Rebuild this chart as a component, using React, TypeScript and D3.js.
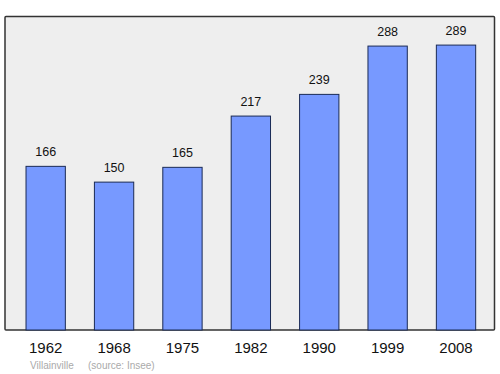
import React from "react";
import * as d3 from "d3";

const years = ["1962", "1968", "1975", "1982", "1990", "1999", "2008"];
const population = [166, 150, 165, 217, 239, 288, 289];
const townName = "Villainville";
const sourceText = "(source: Insee)";

export default function App() {
  const W = 500, H = 374;
  const frame = { x0: 5, y0: 16.5, x1: 494.5, y1: 330 };
  const x = d3.scaleBand<string>().domain(years).range([5.5, 496.2]).paddingInner(0.425).paddingOuter(0.3);
  const y = d3.scaleLinear().domain([0, 318]).range([frame.y1, frame.y0]);
  const font = "'Liberation Sans', Arial, sans-serif";
  return (
    <svg width={W} height={H} style={{ position: "absolute", left: 0, top: 0 }}>
      <rect x={0} y={0} width={W} height={H} fill="#ffffff" />
      <rect x={frame.x0} y={frame.y0} width={frame.x1 - frame.x0} height={frame.y1 - frame.y0}
        fill="#eeeeee" stroke="#333333" strokeWidth={1.5} rx={1} />
      {years.map((yr, i) => {
        const bx = x(yr)!;
        const bw = x.bandwidth();
        const v = population[i];
        return (
          <g key={yr}>
            <rect x={bx} y={y(v)} width={bw} height={frame.y1 - y(v)} fill="#7799ff" stroke="#1a2a55" strokeWidth={1} />
            <text x={bx + bw / 2} y={y(v) - 10} textAnchor="middle" fontFamily={font} fontSize={12.5} fill="#111">{v}</text>
            <text x={bx + bw / 2} y={352.5} textAnchor="middle" fontFamily={font} fontSize={15} fill="#111">{yr}</text>
          </g>
        );
      })}
      <text x={30} y={368.5} fontFamily={font} fontSize={10} fill="#aaaaaa">{townName}</text>
      <text x={88} y={368.5} fontFamily={font} fontSize={10} fill="#aaaaaa">{sourceText}</text>
    </svg>
  );
}
